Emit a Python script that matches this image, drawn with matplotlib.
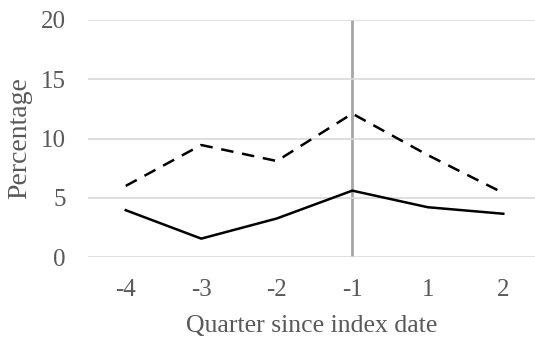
import matplotlib.pyplot as plt

# data
quarters = ["-4", "-3", "-2", "-1", "1", "2"]
dashed_vals = [6.0, 9.45, 8.1, 12.1, 8.6, 5.4]
solid_vals = [3.95, 1.55, 3.25, 5.6, 4.2, 3.65]

plt.rcParams['font.family'] = ['Liberation Serif', 'DejaVu Serif']
TXT = "#595959"

fig = plt.figure(figsize=(5.35, 3.4), dpi=100)
ax = fig.add_axes([88 / 535, 1 - 257 / 340, (535 - 88) / 535, (257 - 20) / 340])

x = list(range(len(quarters)))
ax.plot(x, dashed_vals, color="black", lw=1.8, linestyle=(0, (5, 3.5)))
ax.plot(x, solid_vals, color="black", lw=1.8)
ax.axvline(3, color="#a6a6a6", lw=2, zorder=0)

ax.set_ylim(0, 20)
ax.set_xlim(-0.5, 5.42)
ax.set_yticks([0, 5, 10, 15, 20])
ax.set_xticks(x)
ax.set_xticklabels(quarters)
ax.yaxis.grid(True, color="#d9d9d9", lw=1.2)
ax.set_axisbelow(True)
for s in ax.spines.values():
    s.set_visible(False)
ax.tick_params(length=0, labelsize=18, labelcolor=TXT)
ax.tick_params(axis="y", pad=16)
ax.tick_params(axis="x", pad=16)

ax.set_ylabel("Percentage", fontsize=20, color=TXT, labelpad=0)
ax.yaxis.set_label_coords(-0.125, 0.5)
ax.set_xlabel("Quarter since index date", fontsize=18.5, color=TXT, labelpad=10)

fig.savefig("out.png", dpi=100)
